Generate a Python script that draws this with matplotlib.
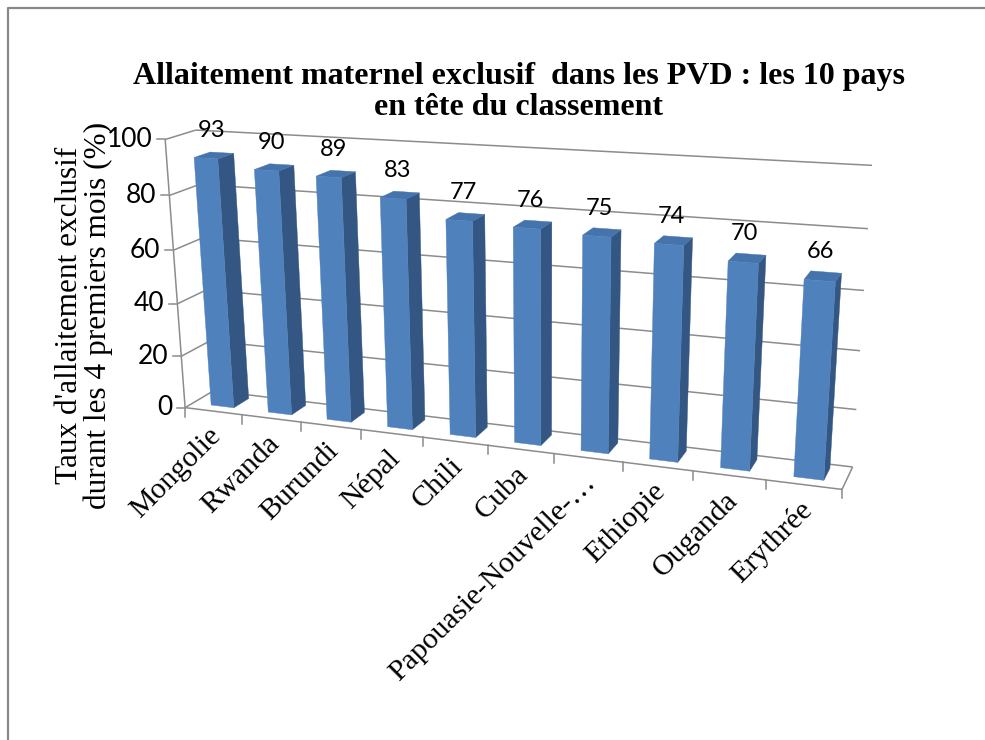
import numpy as np
import matplotlib.pyplot as plt
from matplotlib.patches import Polygon

countries = ["Mongolie", "Rwanda", "Burundi", "Népal", "Chili", "Cuba",
             "Papouasie-Nouvelle-…", "Ethiopie", "Ouganda", "Erythrée"]
rates = [93, 90, 89, 83, 77, 76, 75, 74, 70, 66]
y_ticks = [0, 20, 40, 60, 80, 100]

title = "Allaitement maternel exclusif  dans les PVD : les 10 pays\nen tête du classement"
y_label = "Taux d'allaitement exclusif\ndurant les 4 premiers mois (%)"

# corners of the 3D plot box (category, value, depth) and where they land on the page
box_world = [(0, 0, 0), (0, 100, 0), (10, 0, 0), (0, 100, 1),
             (10, 100, 1), (10, 0, 1), (0, 0, 1), (5, 0, 0)]
box_pixel = [(185, 407), (166, 139), (842, 491), (195, 130),
             (872, 166), (853, 465), (214, 392), (487, 445)]

FRONT = "#4F81BD"
SIDE = "#345682"
TOP = "#4573AC"
GRID = "#8C8C8C"
SERIF = "Liberation Serif"
SANS = "Lato"


def fit_camera(world, pixel):
    rows = []
    for (x, v, z), (u, w) in zip(world, pixel):
        p = [x, v / 10.0, z, 1.0]
        rows.append(p + [0, 0, 0, 0] + [-u * c for c in p])
        rows.append([0, 0, 0, 0] + p + [-w * c for c in p])
    _, _, vt = np.linalg.svd(np.array(rows))
    return vt[-1].reshape(3, 4)


cam = fit_camera(box_world, box_pixel)


def proj(x, v, z):
    p = cam @ np.array([x, v / 10.0, z, 1.0])
    return p[0] / p[2], p[1] / p[2]


def area(pts):
    a = 0.0
    for i in range(len(pts)):
        x1, y1 = pts[i]
        x2, y2 = pts[(i + 1) % len(pts)]
        a += x1 * y2 - x2 * y1
    return a


def line3d(ax, a, b, **kw):
    pa, pb = proj(*a), proj(*b)
    ax.plot([pa[0], pb[0]], [pa[1], pb[1]], color=GRID, lw=1.1,
            solid_capstyle="butt", **kw)


fig = plt.figure(figsize=(9.85, 7.40), dpi=100)
ax = fig.add_axes([0, 0, 1, 1])
ax.set_xlim(0, 985)
ax.set_ylim(740, 0)
ax.axis("off")

# chart frame (only top/left edges are inside the picture)
ax.plot([8, 8, 985], [740, 8, 8], color="#888888", lw=1.6)

n = len(countries)
# walls
for t in y_ticks:
    line3d(ax, (0, t, 1), (n, t, 1))
    line3d(ax, (0, t, 0), (0, t, 1))
    px, py = proj(0, t, 0)
    ax.plot([px - 8, px], [py, py], color=GRID, lw=1.1)
    ax.text(px - 13, py, str(t), ha="right", va="center",
            fontsize=19, family=SANS)
line3d(ax, (0, 0, 0), (0, 100, 0))
# floor
line3d(ax, (0, 0, 0), (n, 0, 0))
line3d(ax, (n, 0, 0), (n, 0, 1))
for k in range(n + 1):
    px, py = proj(k, 0, 0)
    ax.plot([px, px], [py, py + 9], color=GRID, lw=1.1)

# bars
bw, z0, z1 = 0.4, 0.28, 0.82
for i, (name, val) in enumerate(zip(countries, rates)):
    x0, x1 = i + 0.52 - bw / 2, i + 0.52 + bw / 2
    faces = [
        ([(x0, 0, z0), (x1, 0, z0), (x1, val, z0), (x0, val, z0)], FRONT),
        ([(x1, 0, z0), (x1, 0, z1), (x1, val, z1), (x1, val, z0)], SIDE),
        ([(x0, 0, z1), (x0, 0, z0), (x0, val, z0), (x0, val, z1)], SIDE),
        ([(x0, val, z0), (x1, val, z0), (x1, val, z1), (x0, val, z1)], TOP),
    ]
    ref = np.sign(area([proj(*p) for p in faces[0][0]]))
    for pts3, col in faces[1:] + faces[:1]:
        pts = [proj(*p) for p in pts3]
        if np.sign(area(pts)) == ref:
            ax.add_patch(Polygon(pts, closed=True, facecolor=col,
                                 edgecolor=col, lw=0.3, zorder=3))
    lx, ly = proj(i + 0.5, val, 0.5)
    ax.text(lx, ly - 25, str(val), ha="center", va="center",
            fontsize=17, family=SANS, zorder=4)
    cx, cy = proj(i + 0.5, 0, 0)
    ax.text(cx + 4, cy + 21, name, ha="right", va="center", rotation=45,
            rotation_mode="anchor", fontsize=21.5, family=SERIF)

ax.text(519, 92, title, ha="center", va="center", fontsize=23,
        fontweight="bold", family=SERIF, linespacing=1.05)
ax.text(84, 315, y_label, ha="center", va="center", rotation=90,
        fontsize=22.5, family=SERIF, linespacing=1.0)

fig.savefig("out.png", dpi=100)
